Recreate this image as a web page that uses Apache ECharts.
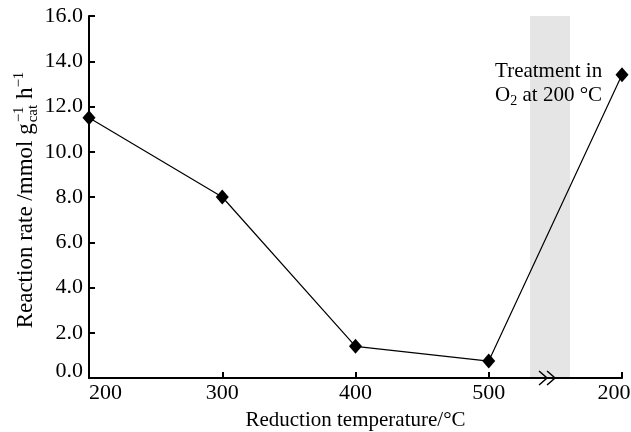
<!DOCTYPE html>
<html><head><meta charset="utf-8">
<script src="https://cdn.jsdelivr.net/npm/echarts@6/dist/echarts.min.js"></script>
<style>html,body{margin:0;padding:0;background:#fff}#c{width:631px;height:432px}</style>
</head><body><div id="c"></div>
<script>
// ---- data ----
const xPositions = [200, 300, 400, 500, 600];
const xTickLabels = ['200', '300', '400', '500', '200'];
const rates = [11.5, 8.0, 1.4, 0.75, 13.4];
const treatmentBand = [531, 561];
const breakAt = 543;

const FONT = '"Liberation Serif", "Times New Roman", serif';
const FS = 22;

const chart = echarts.init(document.getElementById('c'), null, {renderer: 'canvas'});
const seriesData = xPositions.map((x, i) => [x, rates[i]]);

chart.setOption({
  animation: false,
  backgroundColor: '#fff',
  grid: {left: 89, right: 9, top: 16, bottom: 54, containLabel: false, outerBoundsMode: 'none'},
  xAxis: {
    type: 'value', min: 200, max: 600, interval: 100, z: 10,
    axisLine: {lineStyle: {color: '#000', width: 2}},
    axisTick: {inside: true, length: 6, lineStyle: {color: '#000', width: 2}},
    splitLine: {show: false},
    axisLabel: {
      color: '#000', fontFamily: FONT, fontSize: FS, margin: 4,
      formatter: function (v) {
        const i = xPositions.indexOf(v);
        const t = i >= 0 ? xTickLabels[i] : '';
        if (i === 0) return '{first|' + t + '}';
        if (i === xPositions.length - 1) return '{last|' + t + '}';
        return t;
      },
      rich: {
        first: {fontFamily: FONT, fontSize: FS, color: '#000', padding: [0, 0, 0, 33]},
        last: {fontFamily: FONT, fontSize: FS, color: '#000', padding: [0, 16, 0, 0]}
      }
    },
    name: 'Reduction temperature/°C', nameLocation: 'middle', nameGap: 32,
    nameTextStyle: {color: '#000', fontFamily: FONT, fontSize: 21}
  },
  yAxis: {
    type: 'value', min: 0, max: 16, interval: 2, z: 10,
    axisLine: {show: true, lineStyle: {color: '#000', width: 2}},
    axisTick: {show: true, inside: true, length: 6, lineStyle: {color: '#000', width: 2}},
    splitLine: {show: false},
    axisLabel: {color: '#000', fontFamily: FONT, fontSize: FS, margin: 6,
      formatter: v => v === 0 ? '{z|' + v.toFixed(1) + '}' : v.toFixed(1),
      rich: {z: {fontFamily: FONT, fontSize: FS, color: '#000', padding: [0, 0, 14, 0]}}
    }
  },
  series: [{
    type: 'line', data: seriesData,
    lineStyle: {color: '#000', width: 1.2},
    itemStyle: {color: '#000'},
    symbol: 'diamond', symbolSize: [13, 15],
    z: 5,
    markArea: {
      silent: true,
      itemStyle: {color: '#e5e5e5'},
      data: [[{xAxis: treatmentBand[0], yAxis: 0}, {xAxis: treatmentBand[1], yAxis: 16}]]
    }
  }]
});

// decorations: y-axis title, annotation, axis break symbol
function measure(text, size) {
  const ctx = document.createElement('canvas').getContext('2d');
  ctx.font = size + 'px ' + FONT;
  return ctx.measureText(text).width;
}
const YFS = 23, SFS = 15;
const mainTxt = 'Reaction rate /mmol g';
const w1 = measure(mainTxt, YFS);
const wSup = measure('\u22121', SFS);
const wSub = measure('cat', SFS);
const w2 = measure(' h', YFS);
const total = w1 + Math.max(wSup, wSub) + 1 + w2 + wSup;
const yCenter = 200;
const ts = (t, x, y, s) => ({type: 'text', x: x, y: y, z: 100,
  style: {text: t, fontFamily: FONT, fontSize: s, fill: '#000', verticalAlign: 'middle', align: 'left'}});
const labelGroup = {
  type: 'group', x: 26, y: yCenter + total / 2, rotation: Math.PI / 2, z: 100,
  children: [
    ts(mainTxt, 0, 0, YFS),
    ts('\u22121', w1 + 1, -7, SFS),
    ts('cat', w1 + 1, 7, SFS),
    ts(' h', w1 + 1 + Math.max(wSup, wSub), 0, YFS),
    ts('\u22121', w1 + 1 + Math.max(wSup, wSub) + w2, -7, SFS)
  ]
};
const bandPx = chart.convertToPixel({gridIndex: 0}, [treatmentBand[0], 16]);
const annX = bandPx[0] - 35;
const annotation = {
  type: 'group', x: annX, y: 0, z: 100,
  children: [
    {type: 'text', x: 0, y: 71, z: 100, style: {text: 'Treatment in', fontFamily: FONT, fontSize: 21, fill: '#000', verticalAlign: 'middle'}},
    {type: 'text', x: 0, y: 95, z: 100, style: {
      text: 'O{s|2} at 200 °C', fontFamily: FONT, fontSize: 21, fill: '#000', verticalAlign: 'middle',
      rich: {s: {fontFamily: FONT, fontSize: 14, fill: '#000', padding: [12, 0, 0, 0]}}
    }}
  ]
};
const bp = chart.convertToPixel({gridIndex: 0}, [breakAt, 0]);
const chev = (dx) => ({type: 'polyline', x: bp[0] + dx, y: bp[1], z: 100,
  shape: {points: [[-4, -7], [4, 0], [-4, 7]]},
  style: {stroke: '#000', lineWidth: 1.5, fill: null}});
chart.setOption({graphic: [labelGroup, annotation, chev(-3), chev(5)]});
</script></body></html>
